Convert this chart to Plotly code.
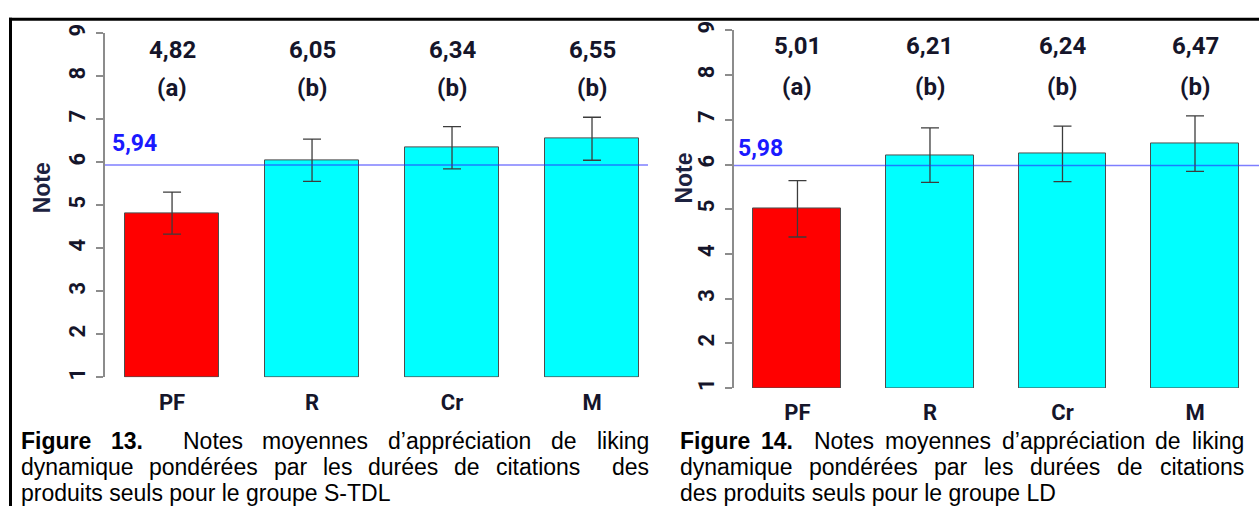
import plotly.graph_objects as go

# ---- data -------------------------------------------------------------
products = ["PF", "R", "Cr", "M"]
y_ticks = [1, 2, 3, 4, 5, 6, 7, 8, 9]
bar_colors = ["#ff0000", "#00ffff", "#00ffff", "#00ffff"]

means_stdl = [4.82, 6.05, 6.34, 6.55]
errors_stdl = [0.49, 0.49, 0.49, 0.50]
letters_stdl = ["a", "b", "b", "b"]
overall_stdl = 5.94

means_ld = [5.01, 6.21, 6.24, 6.47]
errors_ld = [0.63, 0.61, 0.62, 0.62]
letters_ld = ["a", "b", "b", "b"]
overall_ld = 5.98

caption_stdl = [
    "Figure 13.  Notes moyennes d\u2019appréciation de liking",
    "dynamique pondérées par les durées de citations  des",
    "produits seuls pour le groupe S-TDL",
]
caption_ld = [
    "Figure 14.  Notes moyennes d\u2019appréciation de liking",
    "dynamique pondérées par les durées de citations",
    "des produits seuls pour le groupe LD",
]

# ---- styling ----------------------------------------------------------
W, H = 1259, 509
CHART_FONT = "Roboto, Liberation Sans Narrow, DejaVu Sans Condensed, sans-serif"
ARIAL = "Liberation Sans, Arial, sans-serif"
INK = "#15152a"
AXIS_GREY = "#8c8c8c"
CAP_SIZE = 23


def px(x):
    return x / W


def py(y):
    return 1 - y / H


# Arial advance widths (1/1000 em) used to justify the caption lines
REG = {" ": 278, "a": 556, "c": 500, "d": 556, "e": 556, "é": 556, "g": 556,
       "i": 222, "k": 500, "l": 222, "m": 833, "n": 556, "o": 556, "p": 556,
       "q": 556, "r": 333, "s": 500, "t": 278, "u": 556, "y": 500, "N": 722,
       "\u2019": 222, ".": 278, "-": 333}
BOLD = {" ": 278, "F": 611, "i": 278, "g": 611, "u": 611, "r": 389, "e": 556,
        ".": 278}


def text_width(s, bold, size):
    table = BOLD if bold else REG
    return sum(table.get(ch, 556) for ch in s) * size / 1000.0


panels = [
    dict(means=means_stdl, errs=errors_stdl, letters=letters_stdl,
         overall=overall_stdl, caption=caption_stdl,
         xa="x", ya="y", plot_x=(105, 648), plot_y=(24, 377),
         xrange=(-0.479, 3.4), bar_w=0.671,
         val_y=41, let_y=80, ref_lab=(134, 137), note=(42, 182),
         cat_standoff=10, tick_standoff=2,
         cap_x=(20, 648)),
    dict(means=means_ld, errs=errors_ld, letters=letters_ld,
         overall=overall_ld, caption=caption_ld,
         xa="x2", ya="y2", plot_x=(734, 1259), plot_y=(21, 388),
         xrange=(-0.479, 3.483), bar_w=0.664,
         val_y=37, let_y=79, ref_lab=(760, 142), note=(684, 172),
         cat_standoff=9, tick_standoff=2,
         cap_x=(679, 1243)),
]

CAP_LINES_Y = [442, 469, 496]

fig = go.Figure()
annotations = []
shapes = []
layout_axes = {}

for i, p in enumerate(panels):
    fig.add_trace(go.Bar(
        x=products,
        y=[m - 1 for m in p["means"]],
        base=1,
        width=p["bar_w"],
        marker=dict(color=bar_colors, line=dict(color="#4d4d4d", width=1)),
        error_y=dict(type="data", array=p["errs"], color="#3c3c3c",
                     thickness=1.3, width=9),
        xaxis=p["xa"], yaxis=p["ya"],
        showlegend=False,
    ))

    xkey = "xaxis" if i == 0 else "xaxis2"
    ykey = "yaxis" if i == 0 else "yaxis2"
    layout_axes[xkey] = dict(
        domain=[px(p["plot_x"][0]), px(p["plot_x"][1])],
        range=list(p["xrange"]), anchor=p["ya"],
        showgrid=False, zeroline=False, showline=False, ticks="",
        tickfont=dict(family=CHART_FONT, size=22, color=INK, weight="bold"),
        ticklabelstandoff=p["cat_standoff"],
    )
    layout_axes[ykey] = dict(
        domain=[py(p["plot_y"][1]), py(p["plot_y"][0])],
        range=[1, 9], anchor=p["xa"], tickvals=y_ticks,
        showgrid=False, zeroline=False,
        showline=True, linecolor=AXIS_GREY, linewidth=1.5,
        ticks="outside", ticklen=7, tickwidth=1.5, tickcolor=AXIS_GREY,
        tickangle=-90,
        tickfont=dict(family=CHART_FONT, size=22, color=INK, weight="bold"),
        ticklabelstandoff=p["tick_standoff"],
    )

    # overall mean reference line and its label
    shapes.append(dict(type="line", xref=f"{p['xa']} domain", yref=p["ya"],
                       x0=0, x1=1, y0=p["overall"], y1=p["overall"],
                       line=dict(color="rgba(40,40,255,0.6)", width=1.5)))
    annotations.append(dict(
        text=f"{p['overall']:.2f}".replace(".", ","),
        xref="paper", yref="paper", x=px(p["ref_lab"][0]), y=py(p["ref_lab"][1]),
        xanchor="center", yanchor="middle", showarrow=False,
        font=dict(family=CHART_FONT, size=23, color="#1a1aff", weight="bold")))

    # mean values and significance letters above the bars
    for prod, m, let in zip(products, p["means"], p["letters"]):
        annotations.append(dict(
            text=f"{m:.2f}".replace(".", ","), xref=p["xa"], yref="paper",
            x=prod, y=py(p["val_y"]), xanchor="center", yanchor="middle",
            showarrow=False,
            font=dict(family=CHART_FONT, size=24, color=INK, weight="bold")))
        annotations.append(dict(
            text=f"({let})", xref=p["xa"], yref="paper",
            x=prod, y=py(p["let_y"]), xanchor="center", yanchor="middle",
            showarrow=False,
            font=dict(family=CHART_FONT, size=24, color=INK, weight="bold")))

    # y-axis title
    annotations.append(dict(
        text="Note", xref="paper", yref="paper",
        x=px(p["note"][0]), y=py(p["note"][1]), textangle=-90,
        xanchor="center", yanchor="middle", showarrow=False,
        font=dict(family=ARIAL, size=23, color="#1c2240", weight="bold")))

    # justified caption
    x0, x1 = p["cap_x"]
    for li, line in enumerate(p["caption"]):
        yy = py(CAP_LINES_Y[li])
        tokens = line.split(" ")
        if li == len(p["caption"]) - 1:
            annotations.append(dict(
                text=line, xref="paper", yref="paper", x=px(x0), y=yy,
                xanchor="left", yanchor="middle", showarrow=False, borderpad=0,
                font=dict(family=ARIAL, size=CAP_SIZE, color="#000000")))
            continue
        bold_flags = [li == 0 and k < 2 for k in range(len(tokens))]
        widths = [text_width(t, b, CAP_SIZE) for t, b in zip(tokens, bold_flags)]
        gap = (x1 - x0 - sum(widths)) / (len(tokens) - 1)
        xc = x0
        for t, b, w in zip(tokens, bold_flags, widths):
            if t:
                annotations.append(dict(
                    text=f"<b>{t}</b>" if b else t, xref="paper", yref="paper",
                    x=px(xc), y=yy, xanchor="left", yanchor="middle",
                    showarrow=False, borderpad=0,
                    font=dict(family=ARIAL, size=CAP_SIZE, color="#000000")))
            xc += w + gap

# frame lines along the top and left edges
shapes.append(dict(type="line", xref="paper", yref="paper",
                   x0=px(9), x1=1, y0=py(9.5), y1=py(9.5),
                   line=dict(color="#000000", width=3)))
shapes.append(dict(type="line", xref="paper", yref="paper",
                   x0=px(10.5), x1=px(10.5), y0=0, y1=py(8),
                   line=dict(color="#000000", width=3)))

fig.update_layout(
    width=W, height=H,
    margin=dict(l=0, r=0, t=0, b=0),
    paper_bgcolor="white", plot_bgcolor="white",
    bargap=0, showlegend=False,
    annotations=annotations, shapes=shapes,
    **layout_axes,
)

fig.write_html("out.html")
